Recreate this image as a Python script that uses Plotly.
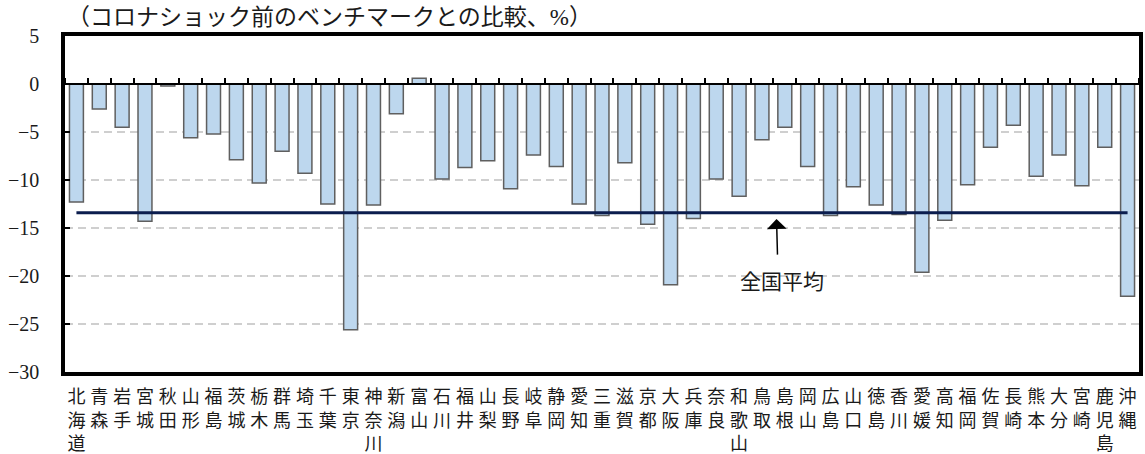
import plotly.graph_objects as go

prefectures = ["北海道", "青森", "岩手", "宮城", "秋田", "山形", "福島", "茨城", "栃木", "群馬",
               "埼玉", "千葉", "東京", "神奈川", "新潟", "富山", "石川", "福井", "山梨", "長野",
               "岐阜", "静岡", "愛知", "三重", "滋賀", "京都", "大阪", "兵庫", "奈良", "和歌山",
               "鳥取", "島根", "岡山", "広島", "山口", "徳島", "香川", "愛媛", "高知", "福岡",
               "佐賀", "長崎", "熊本", "大分", "宮崎", "鹿児島", "沖縄"]

values = [-12.3, -2.6, -4.5, -14.3, -0.2, -5.6, -5.2, -7.9, -10.3, -7.0,
          -9.3, -12.5, -25.6, -12.6, -3.1, 0.6, -9.9, -8.7, -8.0, -10.9,
          -7.4, -8.6, -12.5, -13.7, -8.2, -14.6, -20.9, -14.0, -9.9, -11.7,
          -5.8, -4.5, -8.6, -13.7, -10.7, -12.6, -13.6, -19.6, -14.2, -10.5,
          -6.6, -4.3, -9.6, -7.4, -10.6, -6.6, -22.1]

national_average = -13.4
y_ticks = [5, 0, -5, -10, -15, -20, -25, -30]

title_text = "（コロナショック前のベンチマークとの比較、%）"
avg_label = "全国平均"

tick_text = ["<br>".join(list(p)) for p in prefectures]

Y_MIN, Y_MAX = -30, 5

fig = go.Figure()
fig.add_trace(go.Bar(
    x=prefectures, y=values,
    marker=dict(color="#BDD7EE", line=dict(color="#5f5f5f", width=1.5)),
    showlegend=False,
))
fig.add_trace(go.Scatter(
    x=prefectures, y=[national_average] * len(prefectures),
    mode="lines", line=dict(color="#0b1d4e", width=3),
    xaxis="x2", yaxis="y", showlegend=False,
))

fig.update_layout(
    width=1145, height=454,
    margin=dict(l=65, r=6, t=36, b=82, autoexpand=False),
    paper_bgcolor="white", plot_bgcolor="white",
    bargap=0.39,
    font=dict(family="Liberation Serif, Noto Sans CJK JP", color="#1a1a1a"),
    xaxis=dict(
        type="category", automargin=False,
        tickmode="array", tickvals=prefectures, ticktext=tick_text,
        tickangle=0, ticks="",
        tickfont=dict(family="Noto Sans CJK JP", size=18, color="#1a1a1a"),
        showline=True, linecolor="black", linewidth=3.5, mirror=True,
        showgrid=False, ticklabelstandoff=6,
    ),
    xaxis2=dict(
        type="category", overlaying="x", matches="x", automargin=False,
        anchor="free", position=(0 - Y_MIN) / (Y_MAX - Y_MIN), side="top",
        showline=True, linecolor="black", linewidth=1.5,
        ticks="outside", tickson="boundaries", tickmode="linear", dtick=1,
        ticklen=5, tickwidth=1.5, tickcolor="black",
        showticklabels=False, showgrid=False,
    ),
    yaxis=dict(
        range=[Y_MIN, Y_MAX], tickmode="array", tickvals=y_ticks, automargin=False,
        ticks="inside", ticklen=5, tickwidth=1.5, tickcolor="black",
        tickfont=dict(family="Liberation Serif", size=20, color="#1a1a1a"),
        showline=True, linecolor="black", linewidth=3.5, mirror=True,
        showgrid=True, gridcolor="#cfcfcf", gridwidth=1.5, griddash="8px,5px",
        zeroline=False, ticklabelstandoff=18,
    ),
    annotations=[
        dict(text=title_text, xref="paper", yref="paper", x=0, y=1.055,
             xanchor="left", yanchor="middle", showarrow=False,
             font=dict(family="Liberation Serif, Noto Sans CJK JP", size=23, color="#1a1a1a")),
        dict(text="", xref="paper", yref="paper", x=0.6625, y=0.455,
             ax=1, ay=37, showarrow=True, arrowhead=1, arrowsize=2.2,
             arrowwidth=1.5, arrowcolor="black"),
        dict(text=avg_label, xref="paper", yref="paper", x=0.668, y=0.275,
             xanchor="center", yanchor="middle", showarrow=False,
             font=dict(family="Noto Sans CJK JP", size=21, color="#1a1a1a")),
    ],
)

fig.write_html("out.html")
